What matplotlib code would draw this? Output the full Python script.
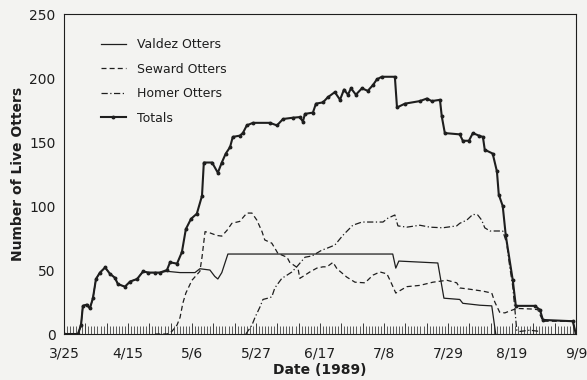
import matplotlib
matplotlib.use("Agg")
import matplotlib.pyplot as plt
from matplotlib.ticker import MultipleLocator, FuncFormatter

# days counted from 3/25/1989
date_labels = ["3/25", "4/15", "5/6", "5/27", "6/17", "7/8", "7/29", "8/19", "9/9"]

total_days = [0, 4.6, 5.6, 6.2, 7.5, 8.5, 9.5, 10.5, 11.8, 13.5, 15.1, 16.7, 17.7, 20.0,
              21.7, 24.0, 26.0, 27.6, 29.9, 31.5, 33.8, 34.8, 37.1, 38.7, 40.0, 41.7,
              43.6, 45.3, 45.9, 48.6, 50.5, 51.8, 53.1, 54.5, 55.4, 57.7, 58.7, 60.0,
              62.0, 67.6, 69.9, 71.9, 75.1, 77.4, 78.4, 79.1, 81.7, 82.7, 85.0, 86.6,
              88.9, 90.6, 91.9, 93.2, 94.2, 95.8, 97.8, 99.7, 101.4, 102.7, 104.3,
              108.6, 109.3, 111.9, 116.8, 119.1, 120.7, 123.4, 124.0, 125.0, 129.9,
              130.9, 132.9, 134.2, 136.2, 137.5, 138.1, 140.7, 142.1, 142.7, 144.0,
              145.0, 147.3, 148.3, 154.5, 156.2, 157.2, 167.0, 168]
total_vals = [0, 0, 7, 22, 23, 20, 28, 43, 48, 52, 47, 44, 39, 37,
              41, 43, 49, 48, 48, 48, 50, 56, 55, 64, 82, 90,
              94, 108, 134, 134, 126, 134, 141, 146, 154, 155, 157, 163,
              165, 165, 163, 168, 169, 169.5, 166, 172, 173, 180, 181, 185,
              189, 183, 191, 187, 192, 187, 192, 190, 194.5, 199, 201,
              201, 177, 180, 182, 184, 182, 183, 170, 157, 156,
              151, 151, 157, 155, 154, 144, 141, 127, 109, 100,
              77, 42, 22, 22, 19, 11, 10, 0]

valdez_days = [0, 4.6, 5.6, 6.2, 7.5, 8.5, 9.5, 10.5, 11.8, 13.5, 15.1, 16.7, 17.7,
               20.0, 21.7, 24.0, 26.0, 27.6, 29.9, 31.5, 33.8, 38.1, 43.0, 44.6, 47.9,
               49.5, 50.5, 51.8, 53.8, 107.9, 108.9, 109.9, 122.7, 124.7, 129.9, 130.9,
               136.5, 140.4, 141.7]
valdez_vals = [0, 0, 7, 22, 23, 20, 28, 43, 48, 52, 47, 44, 39,
               37, 41, 43, 49, 48, 48, 48, 49, 48, 48, 51, 50,
               45, 43, 48, 62.5, 62.5, 51.5, 57, 55.5, 28, 27, 24,
               22.5, 22, 0]

seward_days = [29.9, 33.8, 35.4, 37.1, 38.1, 39.0, 40.0, 42.0, 44.6, 45.3, 46.3, 47.9,
               50.2, 51.8, 53.5, 55.1, 57.7, 60.0, 61.7, 63.3, 65.0, 65.9, 68.2, 69.6,
               70.2, 73.2, 74.1, 76.8, 77.4, 79.1, 80.7, 83.0, 85.0, 86.3, 88.3, 89.6,
               92.8, 95.5, 98.8, 101.4, 103.7, 106.0, 107.3, 108.9, 112.5, 116.8, 121.1,
               125.7, 128.9, 129.9, 133.2, 137.5, 140.4, 141.4, 143.0, 144.7, 146.3,
               148.6, 153.9, 155.5, 157.2, 167.0, 168]
seward_vals = [0, 0, 2, 7, 13, 24, 32, 42, 49, 60, 80, 79,
               77, 76.5, 81, 86.5, 88, 94.5, 94.5, 89, 80, 73.5, 71, 65.5,
               63, 60, 56, 51.5, 43.5, 46, 48.5, 51.5, 52.5, 52.5, 56, 51,
               44.5, 40.5, 40, 46, 48.5, 47, 40.5, 32, 37, 38, 40.5,
               42, 40, 36, 35, 33.5, 32, 25, 17, 16.5, 18,
               20, 19.5, 19, 10, 10, 0]

homer_days = [59.7, 61.7, 62.7, 64.3, 65.3, 66.9, 68.2, 69.2, 71.5, 73.2, 74.8, 76.4,
              79.1, 81.4, 84.6, 86.3, 88.9, 91.5, 94.8, 97.8, 101.4, 104.7, 106.3,
              108.6, 109.6, 112.5, 116.8, 120.1, 124.3, 128.9, 129.9, 132.2, 134.2,
              135.8, 137.1, 138.1, 139.8, 144.0, 145.3, 146.3, 147.3, 148.0, 148.6,
              149.6, 152.9, 156.2]
homer_vals = [0, 7, 13, 21, 27, 28, 29, 36, 43.5, 46, 48.5, 52.5,
              60, 61, 65.5, 67, 69.5, 77, 85, 87.5, 87.5, 87.5, 90.5,
              93, 84.5, 83.5, 85, 83.5, 83, 84.5, 86.5, 89, 93.5,
              93, 89, 83, 80.5, 80.5, 71, 52.5, 37, 19, 3,
              2, 3, 2]

bg = "#f3f3f1"
ink = "#1e1e1e"

fig = plt.figure(figsize=(5.87, 3.80), dpi=100, facecolor=bg)
ax = fig.add_axes([0.109, 0.121, 0.872, 0.842], facecolor=bg)

ax.plot(valdez_days, valdez_vals, color=ink, lw=0.9, label="Valdez Otters")
ax.plot(seward_days, seward_vals, color=ink, lw=0.9, linestyle=(0, (4, 2.5)),
        label="Seward Otters")
ax.plot(homer_days, homer_vals, color=ink, lw=0.9, linestyle=(0, (5, 2, 1, 2)),
        label="Homer Otters")
ax.plot(total_days, total_vals, color=ink, lw=1.5, marker="o", markersize=1.8,
        label="Totals")

ax.set_xlim(0, 168)
ax.set_ylim(0, 250)

ax.xaxis.set_major_locator(MultipleLocator(7))
ax.xaxis.set_minor_locator(MultipleLocator(1))
ax.xaxis.set_major_formatter(FuncFormatter(
    lambda d, pos: date_labels[int(round(d)) // 21] if int(round(d)) % 21 == 0 else ""))
ax.tick_params(axis="x", which="major", direction="in", length=8, width=0.6,
               color=ink, labelsize=10, pad=9, labelcolor=ink)
ax.tick_params(axis="x", which="minor", direction="in", length=6, width=0.5, color=ink)
ax.yaxis.set_major_locator(MultipleLocator(50))
ax.tick_params(axis="y", length=0, labelsize=10, pad=6, labelcolor=ink)

for s in ax.spines.values():
    s.set_linewidth(0.8)
    s.set_color(ink)

ax.set_xlabel("Date (1989)", fontsize=10, fontweight="bold", color=ink, labelpad=2)
ax.set_ylabel("Number of Live Otters", fontsize=10, fontweight="bold", color=ink,
              labelpad=3)

leg = ax.legend(loc="upper left", bbox_to_anchor=(0.05, 0.96), frameon=False,
                fontsize=9, handlelength=2.0, handletextpad=0.9, labelspacing=0.92)
for t in leg.get_texts():
    t.set_color(ink)

fig.savefig("out.png", dpi=100, facecolor=bg)
